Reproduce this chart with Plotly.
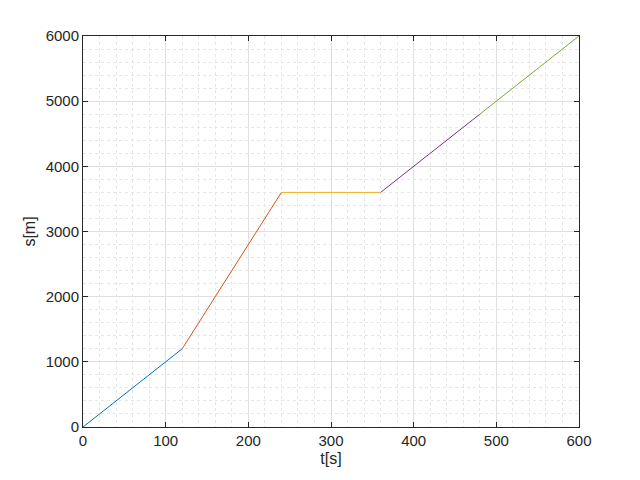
import plotly.graph_objects as go

t_segments = [[0, 120], [120, 240], [240, 360], [360, 480], [480, 600]]
s_segments = [[0, 1200], [1200, 3600], [3600, 3600], [3600, 4800], [4800, 6000]]
colors = ["#0072BD", "#D95319", "#EDB120", "#7E2F8E", "#77AC30"]

fig = go.Figure()
for t, s, c in zip(t_segments, s_segments, colors):
    fig.add_trace(go.Scatter(x=t, y=s, mode="lines", line=dict(color=c, width=1), showlegend=False))

axis_common = dict(
    showline=True, linecolor="#262626", linewidth=1, mirror="ticks",
    ticks="inside", ticklen=5, tickcolor="#262626",
    showgrid=True, gridcolor="#dfdfdf", gridwidth=1,
    minor=dict(showgrid=True, gridcolor="#e6e6e6", griddash="dot", gridwidth=1, ticks=""),
    zeroline=False,
    tickfont=dict(family="Liberation Sans, Arial", size=15, color="#262626"),
    title_font=dict(family="Liberation Sans, Arial", size=16, color="#262626"),
)

fig.update_xaxes(range=[0, 600], dtick=100, tick0=0, minor_dtick=20, title_text="t[s]",
                 title_standoff=4, **axis_common)
fig.update_yaxes(range=[0, 6000], dtick=1000, tick0=0, minor_dtick=200, title_text="s[m]",
                 title_standoff=6, **axis_common)

fig.update_layout(
    width=640, height=480,
    margin=dict(l=75, r=69, t=28, b=61, autoexpand=False),
    plot_bgcolor="white", paper_bgcolor="white",
)

fig.write_html("out.html")
